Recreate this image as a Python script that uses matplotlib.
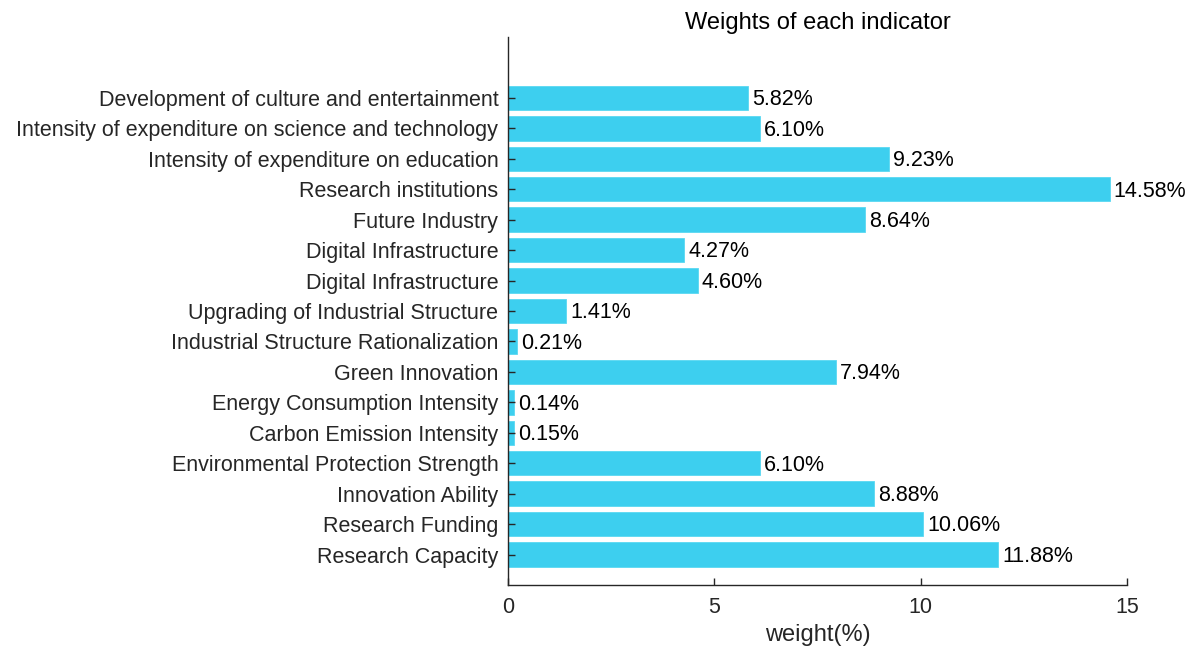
import matplotlib.pyplot as plt
import numpy as np

plt.rcParams['font.family'] = ['Liberation Sans', 'DejaVu Sans']

# Indicators, bottom to top
indicators = ['Research Capacity', 'Research Funding', 'Innovation Ability',
              'Environmental Protection Strength', 'Carbon Emission Intensity',
              'Energy Consumption Intensity', 'Green Innovation',
              'Industrial Structure Rationalization', 'Upgrading of Industrial Structure',
              'Digital Infrastructure', 'Digital Infrastructure', 'Future Industry',
              'Research institutions', 'Intensity of expenditure on education',
              'Intensity of expenditure on science and technology',
              'Development of culture and entertainment']
weights = [11.88, 10.06, 8.88, 6.10, 0.15, 0.14, 7.94, 0.21, 1.41,
           4.60, 4.27, 8.64, 14.58, 9.23, 6.10, 5.82]

fig = plt.figure(figsize=(11.9, 6.55), dpi=100)
ax = fig.add_axes([0.4269, 0.1069, 0.5202, 0.8366])

pos = np.arange(1, len(indicators) + 1)
ax.barh(pos, weights, height=0.8, color='#3DCFEF', edgecolor='#5AD8F2', linewidth=0.6)

for p, w in zip(pos, weights):
    ax.text(w + 0.1, p - 0.06, f'{w:.2f}%', va='center', ha='left', fontsize=15.5, color='black')

ax.set_xlim(0, 15)
ax.set_ylim(0, 18)
ax.set_xticks([0, 5, 10, 15])
ax.set_yticks(pos)
ax.set_yticklabels(indicators)
ax.tick_params(direction='in', length=5, width=1, colors='#262626', labelsize=15.5)
ax.tick_params(axis='x', pad=9)
ax.tick_params(axis='y', pad=7)
for s in ['top', 'right']:
    ax.spines[s].set_visible(False)
for s in ['left', 'bottom']:
    ax.spines[s].set_color('#262626')
    ax.spines[s].set_linewidth(1)

ax.set_xlabel('weight(%)', fontsize=17, color='#262626', labelpad=4)
ax.set_title('Weights of each indicator', fontsize=17, color='black', pad=6)

fig.savefig('out.png', dpi=100)
